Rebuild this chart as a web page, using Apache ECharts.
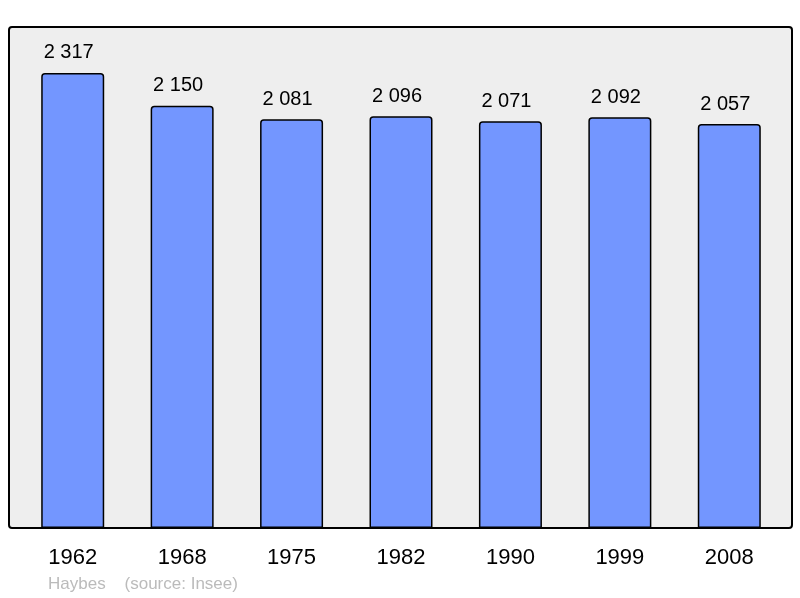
<!DOCTYPE html>
<html>
<head>
<meta charset="utf-8">
<script src="https://cdn.jsdelivr.net/npm/echarts@6/dist/echarts.min.js"></script>
<style>
  html, body { margin: 0; padding: 0; background: #fff; }
  #chart { width: 800px; height: 598px; }
</style>
</head>
<body>
<div id="chart"></div>
<script>
var years = ['1962', '1968', '1975', '1982', '1990', '1999', '2008'];
var population = [2317, 2150, 2081, 2096, 2071, 2092, 2057];

var chart = echarts.init(document.getElementById('chart'));

// nombre avec espace comme séparateur de milliers
function fmt(v) {
    return String(v).replace(/\B(?=(\d{3})+(?!\d))/g, ' ');
}

var option = {
    animation: false,
    backgroundColor: '#ffffff',
    graphic: [
        {
            type: 'rect',
            z: -10,
            shape: { x: 9, y: 27, width: 783, height: 501, r: 3 },
            style: { fill: '#eeeeee', stroke: '#000000', lineWidth: 2 }
        },
        {
            type: 'text',
            left: 48,
            top: 576,
            style: {
                text: 'Haybes    (source: Insee)',
                fill: '#bbbbbb',
                font: '17px "Liberation Sans", Arial, sans-serif'
            }
        }
    ],
    grid: {
        left: 18,
        right: 16,
        top: 27,
        bottom: 70
    },
    xAxis: {
        type: 'category',
        data: years,
        axisLine: { show: false },
        axisTick: { show: false },
        axisLabel: {
            color: '#000',
            fontSize: 22,
            fontFamily: '"Liberation Sans", Arial, sans-serif',
            margin: 19
        }
    },
    yAxis: {
        type: 'value',
        min: 0,
        max: 2551,
        show: false,
        splitLine: { show: false }
    },
    series: [
        {
            type: 'bar',
            data: population,
            barWidth: 63,
            itemStyle: {
                color: '#7396ff',
                borderColor: '#000000',
                borderWidth: 1.5,
                borderRadius: [3, 3, 0, 0]
            },
            label: {
                show: true,
                position: 'top',
                distance: 10,
                offset: [-4, 0],
                color: '#000',
                fontSize: 20,
                fontFamily: '"Liberation Sans", Arial, sans-serif',
                formatter: function (p) { return fmt(p.value); }
            }
        }
    ]
};

chart.setOption(option);
</script>
</body>
</html>
